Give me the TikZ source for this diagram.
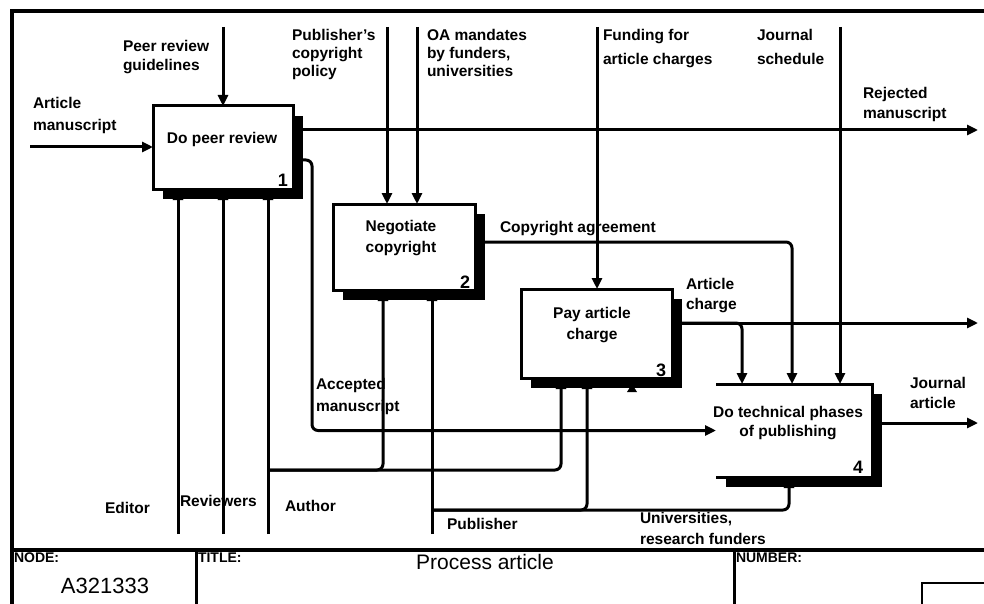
\documentclass[tikz,border=0pt]{standalone}
\usepackage{fontspec}
\setmainfont{Liberation Sans}
\usetikzlibrary{arrows.meta,shadows,calc}

\begin{document}
\begin{tikzpicture}[x=1pt,y=-1pt,
  every node/.style={inner sep=0pt, outer sep=0pt},
  lbl/.style={font=\fontsize{15.5}{19}\selectfont\bfseries, align=left, anchor=north west},
  acttext/.style={font=\fontsize{15.5}{21}\selectfont\bfseries, align=center},
  act/.style={fill=white, anchor=north west,
    drop shadow={shadow xshift=10pt, shadow yshift=-10pt, fill=black, draw=none, opacity=1}},
  actbox/.style={act, draw=black, line width=3pt},
  num/.style={font=\fontsize{18}{18}\selectfont\bfseries},
  flow/.style={line width=3pt, -{Triangle[length=11pt,width=10pt]}},
  roundbend/.style={rounded corners=6pt},
  hd/.style={font=\fontsize{14}{15}\selectfont\bfseries, anchor=north west},
  frame/.style={line width=3.5pt},
]
\useasboundingbox (0,0) rectangle (984,604);

% outer frame and title block
\draw[frame] (995,11) -- (12,11) -- (12,615);
\draw[frame] (12,550) -- (995,550);
\draw[line width=3pt] (196,550) -- (196,615);
\draw[line width=3pt] (734,550) -- (734,615);
\draw[line width=2pt] (995,583) -- (922,583) -- (922,615);

\node[hd] (nodeHd) at (14,553) {NODE:};
\node[font=\fontsize{22}{22}\selectfont] (nodeNo) at (105,586) {A321333};
\node[hd] (titleHd) at (198,553) {TITLE:};
\node[font=\fontsize{21}{21}\selectfont] (titleTx) at (485,562) {Process article};
\node[hd] (numHd) at (736,553) {NUMBER:};

% activity boxes
\node[actbox, minimum width=140pt, minimum height=83pt] (b1) at (153,106) {};
\node[actbox, minimum width=142pt, minimum height=86pt] (b2) at (333,204) {};
\node[actbox, minimum width=151pt, minimum height=89pt] (b3) at (521,289) {};
\node[act, minimum width=156pt, minimum height=93pt] (b4) at (716,384) {};
\draw[line width=3pt] (b4.north west) -- (b4.north east) -- (b4.south east) -- (b4.south west);

\node[acttext] (t1) at (222,139) {Do peer review};
\node[acttext] (t2) at (401,238) {Negotiate\\copyright};
\node[acttext] (t3) at (592,325) {Pay article\\charge};
\node[acttext, font=\fontsize{15.5}{19}\selectfont\bfseries] (t4) at (788,423) {Do technical phases\\of publishing};

\node[num] (n1) at (283,180) {1};
\node[num] (n2) at (465,282) {2};
\node[num] (n3) at (661,370) {3};
\node[num] (n4) at (858,467) {4};

% input
\coordinate (artIn) at (30,147);
\draw[flow] (artIn) -- (b1.west |- artIn);

% controls
\coordinate (prTop) at (223,27);
\coordinate (pcTop) at (387,27);
\coordinate (oaTop) at (417,27);
\coordinate (fuTop) at (597,27);
\coordinate (jsTop) at (840,27);
\draw[flow] (prTop) -- (prTop |- b1.north);
\draw[flow] (pcTop) -- (pcTop |- b2.north);
\draw[flow] (oaTop) -- (oaTop |- b2.north);
\draw[flow] (fuTop) -- (fuTop |- b3.north);
\draw[flow] (jsTop) -- (jsTop |- b4.north);

% outputs
\coordinate (rejEnd) at (978,130);
\draw[flow] (b1.east |- rejEnd) -- (rejEnd);
\coordinate (accBend) at (312,160);
\draw[flow,roundbend] (b1.east |- accBend) -- (accBend) |- (b4.west);
\coordinate (cpBend) at (792,242);
\draw[flow,roundbend] (b2.east |- cpBend) -| (cpBend |- b4.north);
\coordinate (acEnd) at (978,323);
\coordinate (acBranch) at (742,323);
\draw[flow] (b3.east |- acEnd) -- (acEnd);
\draw[flow,roundbend] (b3.east |- acEnd) -| (acBranch |- b4.north);
\coordinate (jaEnd) at (978,423);
\draw[flow] (b4.east |- jaEnd) -- (jaEnd);

% mechanisms
\coordinate (edBot) at (178,534);
\coordinate (rvBot) at (223,534);
\coordinate (auBot) at (268,534);
\coordinate (pbBot) at (432,534);
\draw[flow] (edBot) -- (edBot |- b1.south);
\draw[flow] (rvBot) -- (rvBot |- b1.south);
\draw[flow] (auBot) -- (auBot |- b1.south);
\draw[flow] (pbBot) -- (pbBot |- b2.south);
\coordinate (auJoin) at (268,470);
\coordinate (auB2) at (383,470);
\coordinate (auB3) at (561,470);
\draw[flow,roundbend] (auJoin) -| (auB2 |- b2.south);
\draw[flow,roundbend] (auJoin) -| (auB3 |- b3.south);
\coordinate (pbJoin) at (432,510);
\coordinate (pbB3) at (587,510);
\coordinate (pbB4) at (789,510);
\draw[flow,roundbend] (pbJoin) -| (pbB3 |- b3.south);
\draw[flow,roundbend] (pbJoin) -| (pbB4 |- b4.south);
\coordinate (stub3) at (632,384);
\fill (stub3) -- ++(5,8) -- ++(-10,0) -- cycle;

% arrow labels
\node[lbl, font=\fontsize{15.5}{22}\selectfont\bfseries] (lArt) at (33,97) {Article\\manuscript};
\node[lbl] (lPR) at (123,40) {Peer review\\guidelines};
\node[lbl, font=\fontsize{15.5}{18}\selectfont\bfseries] (lPC) at (292,29) {Publisher's\\copyright\\policy};
\node[lbl, font=\fontsize{15.5}{18}\selectfont\bfseries] (lOA) at (427,29) {OA mandates\\by funders,\\universities};
\node[lbl, font=\fontsize{15.5}{24}\selectfont\bfseries] (lFu) at (603,29) {Funding for\\article charges};
\node[lbl, font=\fontsize{15.5}{24}\selectfont\bfseries] (lJS) at (757,29) {Journal\\schedule};
\node[lbl, font=\fontsize{15.5}{20}\selectfont\bfseries] (lRej) at (863,87) {Rejected\\manuscript};
\node[lbl] (lCA) at (500,221) {Copyright agreement};
\node[lbl, font=\fontsize{15.5}{20}\selectfont\bfseries] (lAC) at (686,278) {Article\\charge};
\node[lbl, font=\fontsize{15.5}{20}\selectfont\bfseries] (lJA) at (910,377) {Journal\\article};
\node[lbl, font=\fontsize{15.5}{22}\selectfont\bfseries] (lAcc) at (316,378) {Accepted\\manuscript};
\node[lbl] (lEd) at (105,502) {Editor};
\node[lbl] (lRv) at (180,495) {Reviewers};
\node[lbl] (lAu) at (285,500) {Author};
\node[lbl] (lPb) at (447,518) {Publisher};
\node[lbl, font=\fontsize{15.5}{21}\selectfont\bfseries] (lUni) at (640,512) {Universities,\\research funders};
\end{tikzpicture}
\end{document}
